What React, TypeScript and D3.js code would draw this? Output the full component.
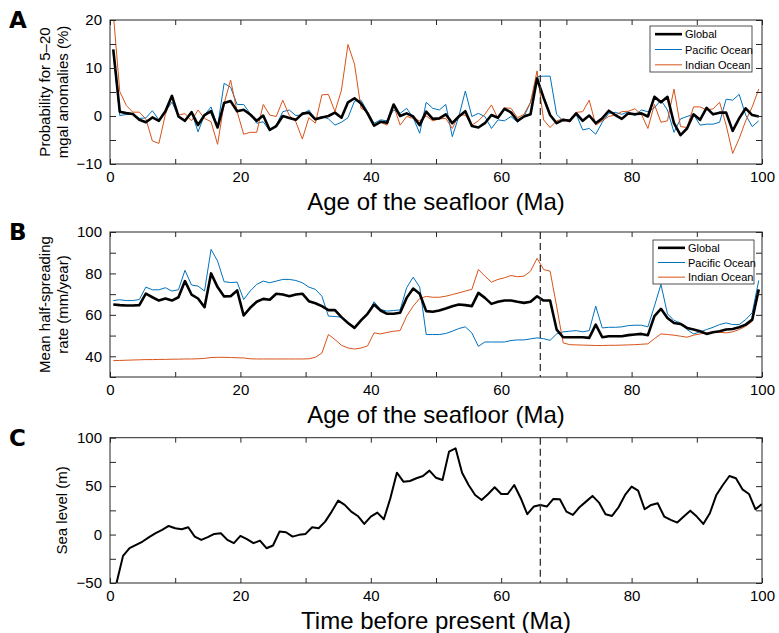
import { useEffect, useRef } from 'react';
import * as d3 from 'd3';

// ── x grids: panels A/B are 1-Myr bins (centred), panel C is sampled every 1 Myr ──
const AGE_MID = d3.range(0.5, 100, 1);
const AGE_INT = d3.range(1, 101, 1);
const K_PG = 66; // dashed reference line (Ma)

// ── Panel A: probability for 5–20 mgal anomalies (%) ──
const GLOBAL_ANOM = [
  13.9, 0.9, 0.6, 0.4, -0.8, -1.3, -0.3, -1.0, 1.0, 4.2,
  -0.1, -1.0, 0.8, -1.9, 0.2, 1.0, -2.4, 2.7, 3.1, 1.0,
  1.3, 0.3, -1.0, 0.1, -2.9, -2.1, 0.0, -0.4, -0.8, 0.5,
  0.7, -0.7, -0.3, 0.0, 0.7, -0.35, 2.85, 3.7, 2.6, 0.55,
  -2.0, -1.2, -1.4, 2.4, 0.0, 0.55, -0.1, -1.9, 0.9, -0.6,
  -0.5, 0.35, -1.5, -0.1, 1.0, -2.1, -2.4, -1.5, 0.2, -0.35,
  1.5, 0.76, -1.0, -0.1, 0.35, 7.8, 3.8, 0.2, -1.5, -0.8,
  -1.0, 0.55, -1.0, 0.1, -1.5, -0.5, 1.1, 0.2, -0.6, 0.55,
  0.35, 0.55, -0.1, 4.0, 2.85, 4.0, -1.5, -4.0, -2.6, 0.35,
  -0.8, 1.7, 0.35, 0.7, 0.7, -3.1, -0.5, 1.6, 0.2, -0.1,
];
const PACIFIC_ANOM = [
  13.1, 0.1, 0.3, 0.4, -0.5, -0.4, 1.1, -0.8, 0.9, 2.9,
  -0.1, -1.0, 0.9, -3.3, 0.2, 1.9, -2.2, 6.8, 6.0, 2.4,
  2.4, 0.5, -1.5, -1.2, -3.1, -1.9, 0.9, 1.25, 0.1, 0.2,
  1.25, -0.6, -0.1, -0.6, -1.9, -1.3, -0.35, 3.1, 3.3, 0.9,
  -1.5, -0.8, -1.0, 1.25, 0.55, 1.6, -0.35, -3.6, 2.85, 1.6,
  1.25, 2.4, -4.3, -0.1, 5.2, -0.1, 0.55, -0.1, -2.6, -0.8,
  -1.0, -0.1, -1.3, -0.1, 2.85, 8.2, 8.3, 8.3, 0.35, -1.0,
  -0.8, 0.35, -2.9, -2.6, -3.8, -1.3, 0.55, 0.76, 0.35, 0.9,
  0.1, 1.25, 0.9, 1.7, 3.3, 1.25, -3.4, -0.6, -0.1, 0.35,
  -1.9, -1.7, -1.7, -1.3, 3.5, 3.3, 4.5, 0.2, -2.2, -1.0,
];
const INDIAN_ANOM = [
  21.5, 5.1, 2.2, 0.8, 0.8, -0.6, -5.2, -5.7, 0.35, 4.0,
  0.2, 0.5, -1.0, 1.25, -0.5, -1.2, -5.9, 2.6, 7.5, 0.9,
  -3.8, -3.4, -3.4, 2.4, 0.2, -0.1, 3.3, 0.1, -1.2, -4.8,
  -0.35, -1.5, 4.4, 4.5, 0.9, 5.4, 14.9, 10.8, 1.6, 0.9,
  -1.9, -1.3, -1.9, 2.2, -1.9, -0.1, -0.5, -1.0, 0.0, -1.0,
  -0.6, -0.5, -2.6, 0.2, 0.2, -1.9, -1.0, 0.35, 2.3, -0.5,
  1.7, 1.6, -0.35, 0.35, 2.85, 9.4, -0.8, -2.4, -1.0, -0.6,
  -1.3, 0.76, 0.9, 3.3, -1.9, -1.0, -0.1, 0.2, 0.9, 1.0,
  1.5, 0.35, -2.6, 2.4, -1.3, -1.0, 5.6, -2.2, -2.4, 1.9,
  1.9, 1.25, 1.5, 2.85, -1.9, -7.8, -4.7, -1.0, 1.9, 5.6,
];

// ── Panel B: mean half-spreading rate (mm/year) ──
const GLOBAL_RATE = [
  65.0, 64.7, 64.5, 64.5, 64.7, 70.2, 68.5, 66.9, 67.9, 66.9,
  68.5, 76.3, 69.8, 67.9, 63.7, 80.0, 73.4, 68.9, 69.0, 71.8,
  59.7, 63.4, 66.3, 67.7, 67.3, 70.2, 69.8, 69.0, 69.8, 70.2,
  66.6, 65.6, 64.2, 62.3, 62.3, 58.9, 56.1, 53.7, 57.3, 60.5,
  65.0, 62.1, 60.5, 60.5, 61.0, 68.2, 72.7, 70.2, 61.8, 61.5,
  62.1, 63.1, 64.2, 65.0, 64.7, 64.2, 70.6, 68.2, 65.3, 66.3,
  66.9, 66.9, 66.3, 65.8, 66.3, 69.0, 66.9, 66.9, 52.9, 49.2,
  49.2, 49.2, 49.2, 48.9, 55.3, 49.2, 49.7, 49.7, 49.7, 50.2,
  50.5, 50.8, 50.2, 59.4, 62.9, 58.5, 56.1, 55.6, 53.7, 52.9,
  52.1, 50.8, 51.6, 52.1, 52.9, 53.2, 54.0, 55.3, 57.7, 72.3,
];
const PACIFIC_RATE = [
  66.9, 67.3, 66.9, 66.9, 67.4, 73.4, 72.1, 72.1, 73.1, 71.5,
  72.1, 81.5, 74.4, 73.9, 71.5, 91.6, 86.0, 76.0, 75.6, 75.8,
  67.4, 71.5, 74.7, 76.3, 75.5, 76.3, 77.1, 77.1, 76.6, 75.5,
  73.4, 72.3, 69.0, 59.4, 59.2, 58.9, 56.1, 53.7, 57.7, 60.5,
  66.3, 62.6, 61.8, 62.1, 62.4, 73.1, 78.2, 73.4, 50.5, 50.5,
  50.5, 51.0, 52.1, 53.4, 54.2, 51.3, 44.8, 46.9, 46.9, 46.9,
  46.9, 47.6, 47.9, 47.9, 48.4, 48.9, 48.5, 47.7, 50.8, 51.8,
  52.1, 52.4, 51.8, 52.4, 64.2, 53.7, 54.0, 54.0, 54.2, 54.8,
  55.0, 55.0, 54.2, 64.2, 74.7, 60.5, 57.3, 56.1, 52.9, 50.8,
  51.8, 52.9, 54.0, 55.3, 56.1, 55.3, 55.3, 57.7, 61.0, 76.6,
];
const INDIAN_RATE = [
  37.9, 38.0, 38.1, 38.2, 38.3, 38.4, 38.4, 38.5, 38.5, 38.6,
  38.6, 38.7, 38.7, 38.8, 39.0, 39.4, 39.5, 39.5, 39.4, 39.3,
  39.2, 38.8, 38.7, 38.7, 38.7, 38.7, 38.7, 38.7, 38.7, 38.7,
  38.8, 39.5, 41.6, 50.5, 48.1, 45.3, 44.0, 43.5, 44.0, 45.0,
  51.3, 50.8, 51.5, 52.1, 52.4, 59.4, 64.2, 67.9, 68.9, 68.5,
  68.5, 69.0, 69.8, 70.6, 71.5, 72.3, 81.9, 78.7, 75.8, 77.1,
  77.9, 79.0, 78.4, 78.7, 81.1, 87.3, 81.9, 81.1, 64.2, 46.5,
  45.6, 45.5, 45.4, 45.3, 45.2, 45.2, 45.3, 45.3, 45.4, 45.5,
  45.6, 45.8, 46.0, 48.5, 50.8, 50.5, 50.2, 49.7, 49.2, 50.2,
  50.8, 51.3, 51.8, 51.6, 51.3, 51.8, 52.9, 54.5, 56.9, 71.5,
];

// ── Panel C: sea level (m) ──
const SEA_LEVEL = [
  -50, -22, -14.1, -10.7, -7.2, -2.7, 1.4, 4.8, 8.9, 6.5,
  5.5, 7.6, -2.1, -5.5, -2.7, 0.7, 1.4, -5.5, -8.9, -1.4,
  -4.8, -8.9, -6.2, -14.1, -11.3, 3.1, 2.4, -2.1, -0.3, 0.7,
  7.6, 6.5, 13.4, 23.7, 35.1, 30.6, 23.7, 19.2, 11.0, 18.6,
  22.7, 15.8, 37.5, 63.9, 54.6, 55.3, 58.1, 60.5, 66.0, 58.6,
  56.4, 85.6, 89.0, 63.9, 51.2, 40.9, 35.7, 41.9, 48.8, 41.9,
  41.9, 51.2, 37.5, 21.0, 28.9, 30.6, 28.9, 36.8, 36.4, 23.7,
  20.3, 28.2, 34.0, 39.9, 33.0, 21.0, 19.2, 28.2, 40.9, 49.5,
  45.4, 26.1, 30.6, 32.3, 18.6, 15.1, 12.4, 18.6, 24.7, 18.6,
  11.0, 22.0, 40.9, 51.2, 60.5, 58.1, 46.7, 41.9, 26.1, 31.6,
];

const LEGEND_NAMES = ['Global', 'Pacific Ocean', 'Indian Ocean'];
const X_TICKS = d3.range(0, 101, 10);
const X_LABELS = [0, 20, 40, 60, 80, 100];

const BLUE = '#0072BD', RED = '#D95319';
const FONT = '"Liberation Sans", Arial, Helvetica, sans-serif';
const W = 779, H = 633;
const X0 = 110, X1 = 762;

const PANELS = [
  {
    letter: 'A', top: 20, bottom: 164, domain: [-10, 20],
    yTicks: d3.range(-10, 21, 5), yLabels: [-10, 0, 10, 20],
    yTitle: ['Probability for 5\u201320', 'mgal anomalies (%)'],
    xTitle: 'Age of the seafloor (Ma)',
    series: [
      { name: 'Pacific Ocean', ages: AGE_MID, values: PACIFIC_ANOM, color: BLUE, width: 1 },
      { name: 'Indian Ocean', ages: AGE_MID, values: INDIAN_ANOM, color: RED, width: 1 },
      { name: 'Global', ages: AGE_MID, values: GLOBAL_ANOM, color: '#000', width: 2.6 },
    ],
    legend: { x: 650, y: 26, w: 102, h: 46 },
  },
  {
    letter: 'B', top: 232, bottom: 377, domain: [30, 100],
    yTicks: d3.range(30, 101, 10), yLabels: [40, 60, 80, 100],
    yTitle: ['Mean half-spreading', 'rate (mm/year)'],
    xTitle: 'Age of the seafloor (Ma)',
    series: [
      { name: 'Pacific Ocean', ages: AGE_MID, values: PACIFIC_RATE, color: BLUE, width: 1 },
      { name: 'Indian Ocean', ages: AGE_MID, values: INDIAN_RATE, color: RED, width: 1 },
      { name: 'Global', ages: AGE_MID, values: GLOBAL_RATE, color: '#000', width: 2.6 },
    ],
    legend: { x: 653, y: 240, w: 101, h: 44 },
  },
  {
    letter: 'C', top: 437.7, bottom: 583, domain: [-50, 100],
    yTicks: d3.range(-50, 101, 25), yLabels: [-50, 0, 50, 100],
    yTitle: ['Sea level (m)'],
    xTitle: 'Time before present (Ma)',
    series: [
      { name: 'Sea level', ages: AGE_INT, values: SEA_LEVEL, color: '#000', width: 2 },
    ],
    legend: null,
  },
];

export default function App() {
  const svgRef = useRef<SVGSVGElement | null>(null);

  useEffect(() => {
    if (!svgRef.current) return;
    const svg = d3.select(svgRef.current);
    svg.selectAll('*').remove();

    const x = d3.scaleLinear().domain([0, 100]).range([X0, X1]);
    const fmt = d3.format('d');

    PANELS.forEach((p, i) => {
      const y = d3.scaleLinear().domain(p.domain).range([p.bottom, p.top]);
      const g = svg.append('g');

      // clip to the axes box
      const clipId = `clip${i}`;
      svg.append('defs').append('clipPath').attr('id', clipId)
        .append('rect').attr('x', X0).attr('y', p.top).attr('width', X1 - X0).attr('height', p.bottom - p.top);

      // series
      const plot = g.append('g').attr('clip-path', `url(#${clipId})`);
      p.series.forEach(s => {
        const pts: [number, number][] = s.values.map((v, j) => [x(s.ages[j]), y(v)]);
        plot.append('path')
          .attr('d', d3.line()(pts))
          .attr('fill', 'none').attr('stroke', s.color).attr('stroke-width', s.width)
          .attr('stroke-linejoin', 'round');
      });

      // dashed reference line
      g.append('line')
        .attr('x1', x(K_PG)).attr('x2', x(K_PG)).attr('y1', p.top).attr('y2', p.bottom)
        .attr('stroke', '#333').attr('stroke-width', 1.3).attr('stroke-dasharray', '7,4');

      // axes (inward ticks on all four sides)
      const styleAxis = (ax: any) => {
        ax.select('.domain').remove();
        ax.selectAll('line').attr('stroke', '#262626');
        ax.selectAll('text').attr('fill', '#000').style('font-family', FONT).style('font-size', '15px');
      };
      g.append('g').attr('transform', `translate(0,${p.bottom})`)
        .call(d3.axisBottom(x).tickValues(X_TICKS).tickSizeInner(-5).tickSizeOuter(0).tickPadding(7)
          .tickFormat((d: any) => (X_LABELS.includes(d) ? fmt(d) : '')))
        .call(styleAxis);
      g.append('g').attr('transform', `translate(0,${p.top})`)
        .call(d3.axisTop(x).tickValues(X_TICKS).tickSizeInner(-5).tickSizeOuter(0).tickFormat(() => ''))
        .call(styleAxis);
      g.append('g').attr('transform', `translate(${X0},0)`)
        .call(d3.axisLeft(y).tickValues(p.yTicks).tickSizeInner(-6).tickSizeOuter(0).tickPadding(8)
          .tickFormat((d: any) => (p.yLabels.includes(d) ? fmt(d) : '')))
        .call(styleAxis);
      g.append('g').attr('transform', `translate(${X1},0)`)
        .call(d3.axisRight(y).tickValues(p.yTicks).tickSizeInner(-6).tickSizeOuter(0).tickFormat(() => ''))
        .call(styleAxis);

      g.append('rect')
        .attr('x', X0).attr('y', p.top).attr('width', X1 - X0).attr('height', p.bottom - p.top)
        .attr('fill', 'none').attr('stroke', '#262626').attr('stroke-width', 1);

      // x title
      g.append('text')
        .attr('x', (X0 + X1) / 2).attr('y', p.bottom + 46)
        .attr('text-anchor', 'middle').style('font-family', FONT).style('font-size', '24px')
        .text(p.xTitle);

      // y title
      const yc = (p.top + p.bottom) / 2;
      const xs = p.yTitle.length === 2 ? [50, 68] : [67];
      p.yTitle.forEach((t, k) => {
        g.append('text')
          .attr('transform', `translate(${xs[k]},${yc}) rotate(-90)`)
          .attr('text-anchor', 'middle').style('font-family', FONT).style('font-size', '15px')
          .text(t);
      });

      // panel letter
      g.append('text')
        .attr('x', 9).attr('y', p.top + 8)
        .style('font-family', '"DejaVu Sans", sans-serif').style('font-weight', 'bold').style('font-size', '23px')
        .text(p.letter);

      // legend
      if (p.legend) {
        const L = p.legend;
        const lg = g.append('g');
        lg.append('rect').attr('x', L.x).attr('y', L.y).attr('width', L.w).attr('height', L.h)
          .attr('fill', '#fff').attr('stroke', '#262626').attr('stroke-width', 0.8);
        const step = L.h / 3;
        LEGEND_NAMES.forEach((name, k) => {
          const s = p.series.find(d => d.name === name)!;
          const ly = L.y + step * (k + 0.5) + 0.5;
          lg.append('line').attr('x1', L.x + 5).attr('x2', L.x + 32).attr('y1', ly).attr('y2', ly)
            .attr('stroke', s.color).attr('stroke-width', s.width);
          lg.append('text').attr('x', L.x + 35).attr('y', ly + 4)
            .style('font-family', FONT).style('font-size', '11px')
            .text(name);
        });
      }
    });
  }, []);

  return (
    <div style={{ position: 'absolute', left: 0, top: 0, background: '#fff' }}>
      <svg ref={svgRef} width={W} height={H} viewBox={`0 0 ${W} ${H}`} style={{ display: 'block' }} />
    </div>
  );
}
